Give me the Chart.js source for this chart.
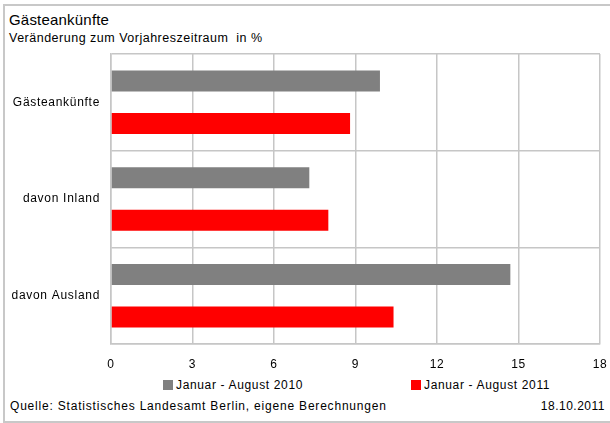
<!DOCTYPE html>
<html>
<head>
<meta charset="utf-8">
<script src="https://cdn.jsdelivr.net/npm/chart.js"></script>
<style>
  body { margin: 0; width: 610px; height: 423px; background: #fff; position: relative; overflow: hidden;
         font-family: "Liberation Sans", Arial, sans-serif; color: #000; }
  .rahmen { position: absolute; left: 3px; top: 4px; width: 606px; height: 415px;
            border: 2px solid #c8c8c8; border-right: none; }
  .txt { position: absolute; white-space: pre; line-height: 14px; font-size: 12px; letter-spacing: 0.7px; }
  #wrap { position: absolute; left: 0; top: 50px; width: 610px; height: 324px; }
  .leg { position: absolute; top: 378px; font-size: 12px; line-height: 14px; white-space: pre; letter-spacing: 0.65px; }
  .leg span { display: inline-block; width: 10px; height: 10px; vertical-align: -1px; margin-right: 3px; }
</style>
</head>
<body>
<div class="rahmen"></div>
<div class="txt" style="left:9px; top:11px; font-size:15px; line-height:18px; letter-spacing:0.2px;">Gästeankünfte</div>
<div class="txt" style="left:9px; top:31px; font-size:12.5px; letter-spacing:0.5px;">Veränderung zum Vorjahreszeitraum  in %</div>
<div id="wrap"><canvas id="grafik" width="610" height="324"></canvas></div>
<div id="legende"></div>
<div class="txt" style="left:10px; top:399px; letter-spacing:0.8px;">Quelle: Statistisches Landesamt Berlin, eigene Berechnungen</div>
<div class="txt" style="right:5px; top:399px; letter-spacing:0.5px;">18.10.2011</div>
<script>
// Daten
const kategorien = ['Gästeankünfte', 'davon Inland', 'davon Ausland'];
const werte2010 = [9.9, 7.3, 14.7];
const werte2011 = [8.8, 8.0, 10.4];
const serienNamen = ['Januar - August 2010', 'Januar - August 2011'];
const serienFarben = ['#808080', '#ff0000'];
const xMin = 0, xMax = 18, xSchritt = 3;

const gitterFarbe = '#c6c6c6';
const schrift = { family: '"Liberation Sans", Arial, sans-serif', size: 12 };

// Legende (HTML)
const legPos = [163, 411];
document.getElementById('legende').innerHTML = serienNamen.map((name, i) =>
  `<div class="leg" style="left:${legPos[i]}px"><span style="background:${serienFarben[i]}"></span>${name}</div>`
).join('');

// etwas Zeichenabstand wie im Original
const sperrung = {
  id: 'sperrung',
  beforeDraw(chart) { chart.ctx.letterSpacing = '0.7px'; }
};

// Achsen mit fester Groesse, ohne Zusatzabstand fuer die Beschriftung
function festeGroesse(breite, hoehe) {
  return s => {
    if (breite) s.width = breite;
    if (hoehe) s.height = hoehe;
    s.paddingTop = s.paddingBottom = s.paddingLeft = s.paddingRight = 0;
  };
}

const ctx = document.getElementById('grafik').getContext('2d');
new Chart(ctx, {
  type: 'bar',
  data: {
    labels: kategorien,
    datasets: [
      { label: serienNamen[0], data: werte2010, backgroundColor: serienFarben[0] },
      { label: serienNamen[1], data: werte2011, backgroundColor: serienFarben[1] }
    ]
  },
  plugins: [sperrung],
  options: {
    indexAxis: 'y',
    responsive: false,
    animation: false,
    categoryPercentage: 0.88,
    barPercentage: 0.494,
    layout: { padding: { top: 4, right: 10, left: 0, bottom: 0 } },
    plugins: { legend: { display: false }, tooltip: { enabled: false } },
    scales: {
      x: {
        min: xMin, max: xMax,
        ticks: { stepSize: xSchritt, color: '#000', font: schrift, padding: 13, maxRotation: 0 },
        grid: { color: gitterFarbe, drawTicks: false, lineWidth: 1.5 },
        border: { color: gitterFarbe, width: 1.5 },
        afterFit: festeGroesse(0, 30)
      },
      y: {
        ticks: { color: '#000', font: schrift, padding: 11 },
        grid: { color: gitterFarbe, drawTicks: false, offset: true, lineWidth: 1.5 },
        border: { color: gitterFarbe, width: 1.5 },
        afterFit: festeGroesse(111, 0)
      }
    }
  }
});
</script>
</body>
</html>
